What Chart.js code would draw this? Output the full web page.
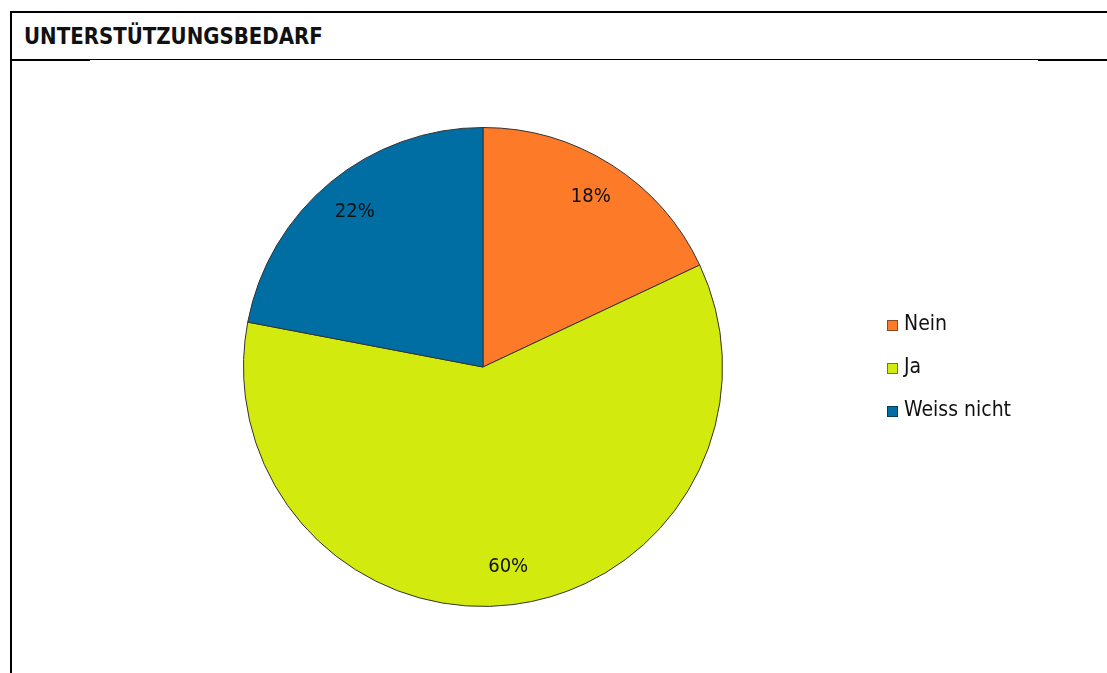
<!DOCTYPE html>
<html>
<head>
<meta charset="utf-8">
<script src="https://cdn.jsdelivr.net/npm/chart.js@4"></script>
<style>
  html, body { margin: 0; padding: 0; background: #fff; }
  #wrap { position: relative; width: 1107px; height: 673px; overflow: hidden; }
  #box { position: absolute; left: 10px; top: 11px; width: 1200px; height: 800px;
         border-left: 2px solid #000; border-top: 2px solid #000; }
  #title { position: absolute; left: 24px; top: 22px; font-family: "Liberation Sans Narrow", "DejaVu Sans Condensed", sans-serif;
           font-weight: bold; font-size: 22px; color: #111; transform: scaleY(1.08); transform-origin: left top; }
  #rule { position: absolute; left: 12px; top: 59px; width: 1095px; height: 0; border-top: 1px solid #000; }
  #rule1 { position: absolute; left: 12px; top: 59px; width: 78px; height: 2px; background: #000; }
  #rule2 { position: absolute; left: 1038px; top: 59px; width: 69px; height: 2px; background: #000; }
  canvas { position: absolute; left: 0; top: 0; }
</style>
</head>
<body>
<div id="wrap">
  <div id="box"></div>
  <div id="rule"></div><div id="rule1"></div><div id="rule2"></div>
  <div id="title">UNTERSTÜTZUNGSBEDARF</div>
  <canvas id="c" width="1107" height="673"></canvas>
</div>
<script>
const categories = ['Nein', 'Ja', 'Weiss nicht'];
const shares = [18, 60, 22];
const colors = ['#FD7A28', '#D2EA0E', '#006EA3'];
const legendBorders = ['#8a4a20', '#6f7a10', '#003d5e'];

const FONT = '"Liberation Sans Narrow", "DejaVu Sans Condensed", sans-serif';

const sliceLabels = {
  id: 'sliceLabels',
  afterDatasetsDraw(chart) {
    const ctx = chart.ctx;
    const meta = chart.getDatasetMeta(0);
    ctx.save();
    ctx.font = '20px ' + FONT;
    ctx.fillStyle = '#111';
    ctx.textAlign = 'center';
    ctx.textBaseline = 'middle';
    meta.data.forEach((arc, i) => {
      const p = arc.getProps(['x', 'y', 'startAngle', 'endAngle', 'outerRadius'], true);
      const mid = (p.startAngle + p.endAngle) / 2;
      const r = p.outerRadius * 0.84;
      ctx.fillText(shares[i] + '%', p.x + Math.cos(mid) * r, p.y + Math.sin(mid) * r);
    });
    ctx.restore();
  }
};

const sideLegend = {
  id: 'sideLegend',
  afterDraw(chart) {
    const ctx = chart.ctx;
    ctx.save();
    ctx.font = '21px ' + FONT;
    ctx.textBaseline = 'middle';
    ctx.textAlign = 'left';
    categories.forEach((name, i) => {
      const y = 325 + i * 43;
      ctx.fillStyle = colors[i];
      ctx.fillRect(887, y - 5, 11, 11);
      ctx.strokeStyle = legendBorders[i];
      ctx.lineWidth = 1;
      ctx.strokeRect(887.5, y - 4.5, 10, 10);
      ctx.fillStyle = '#111';
      ctx.fillText(name, 904, y);
    });
    ctx.restore();
  }
};

new Chart(document.getElementById('c'), {
  type: 'pie',
  data: {
    labels: categories,
    datasets: [{
      data: shares,
      backgroundColor: colors,
      borderColor: '#333',
      borderWidth: 1
    }]
  },
  options: {
    responsive: false,
    animation: false,
    layout: { padding: { left: 243, right: 384, top: 127, bottom: 66 } },
    plugins: { legend: { display: false }, tooltip: { enabled: false } }
  },
  plugins: [sliceLabels, sideLegend]
});
</script>
</body>
</html>
